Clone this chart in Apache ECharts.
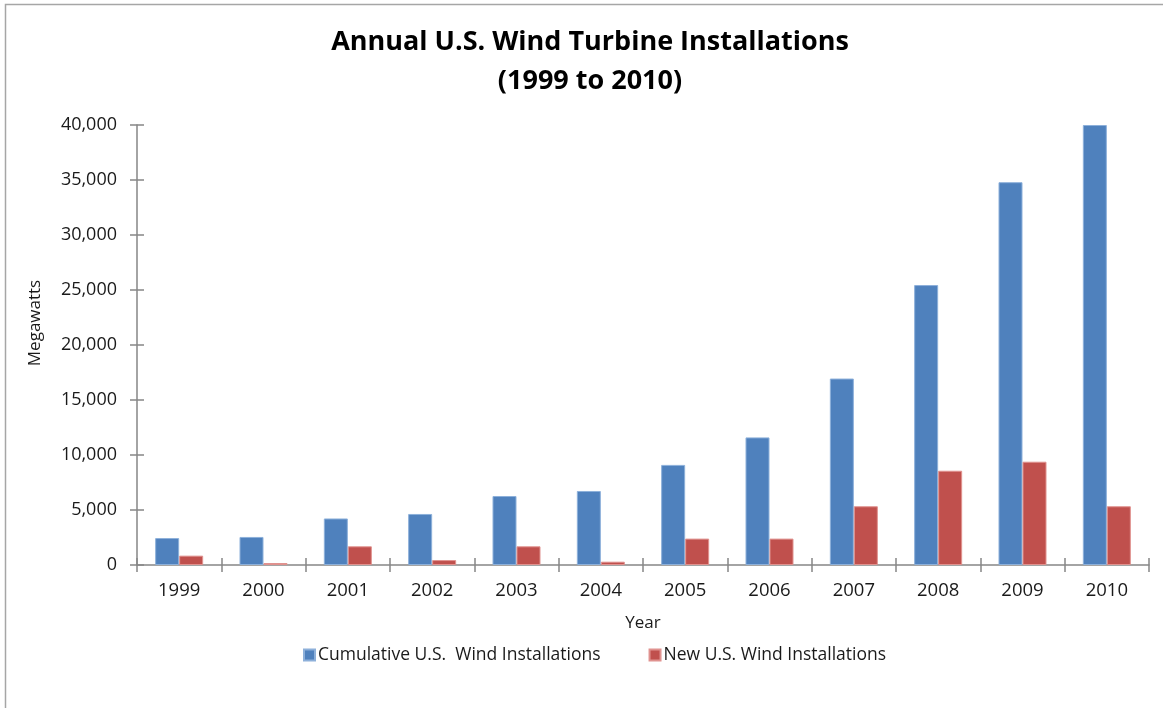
<!DOCTYPE html>
<html>
<head>
<meta charset="utf-8">
<title>Annual U.S. Wind Turbine Installations</title>
<script src="https://cdn.jsdelivr.net/npm/echarts@6/dist/echarts.min.js"></script>
<style>
  html, body { margin: 0; padding: 0; background: #ffffff; }
  #chart { width: 1163px; height: 708px; }
</style>
</head>
<body>
<div id="chart"></div>
<script>
// Annual wind capacity, megawatts
const years = ['1999', '2000', '2001', '2002', '2003', '2004', '2005', '2006', '2007', '2008', '2009', '2010'];
const cumulativeMW = [2450, 2550, 4230, 4640, 6270, 6730, 9100, 11600, 16950, 25450, 34800, 40000];
const newMW = [850, 180, 1700, 450, 1700, 300, 2400, 2400, 5340, 8570, 9390, 5340];
const yTicks = [0, 5000, 10000, 15000, 20000, 25000, 30000, 35000, 40000];

const FONT = '"Open Sans", "DejaVu Sans", sans-serif';
const AXIS_GRAY = '#868686';
const TEXT = '#1a1a1a';

const chart = echarts.init(document.getElementById('chart'), null, { renderer: 'canvas' });

const fmt = v => v.toLocaleString('en-US');

chart.setOption({
  backgroundColor: '#ffffff',
  animation: false,
  graphic: [{
    type: 'rect',
    shape: { x: 5.5, y: 4.5, width: 1300, height: 900 },
    style: { fill: 'none', stroke: '#a6a6a6', lineWidth: 1.5 },
    silent: true
  }],
  title: {
    text: 'Annual U.S. Wind Turbine Installations\n(1999 to 2010)',
    left: 585,
    top: 18,
    textAlign: 'center',
    textStyle: {
      fontFamily: FONT,
      fontWeight: 'bold',
      fontSize: 27,
      lineHeight: 39,
      color: '#000000'
    }
  },
  legend: {
    bottom: 39,
    left: 298,
    itemWidth: 11,
    itemHeight: 11,
    itemGap: 48,
    icon: 'rect',
    textStyle: { fontFamily: FONT, fontSize: 17.5, color: TEXT, padding: [0, 0, 0, -2] },
    data: ['Cumulative U.S.  Wind Installations', 'New U.S. Wind Installations']
  },
  grid: { left: 137, right: 14, top: 125, bottom: 143, containLabel: false },
  xAxis: [{
    type: 'category',
    data: years,
    name: 'Year',
    nameLocation: 'middle',
    nameGap: 50,
    nameTextStyle: { fontFamily: FONT, fontSize: 17, color: TEXT },
    axisLine: { lineStyle: { color: AXIS_GRAY, width: 1.5 } },
    axisTick: { show: true, length: 7, lineStyle: { color: AXIS_GRAY, width: 1.5 } },
    axisLabel: { fontFamily: FONT, fontSize: 18.5, color: TEXT, margin: 16 }
  }, {
    // inner half of the crossing tick marks
    type: 'category',
    data: years,
    position: 'bottom',
    axisLine: { show: false },
    axisTick: { show: true, inside: true, length: 7, lineStyle: { color: AXIS_GRAY, width: 1.5 } },
    axisLabel: { show: false }
  }],
  yAxis: [{
    type: 'value',
    min: 0,
    max: 40000,
    interval: 5000,
    name: 'Megawatts',
    nameLocation: 'middle',
    nameGap: 93,
    nameRotate: 90,
    nameTextStyle: { fontFamily: FONT, fontSize: 17, color: TEXT, padding: [0, 0, 0, 44] },
    splitLine: { show: false },
    axisLine: { show: true, lineStyle: { color: AXIS_GRAY, width: 1.5 } },
    axisTick: { show: true, length: 7, lineStyle: { color: AXIS_GRAY, width: 1.5 } },
    axisLabel: {
      fontFamily: FONT, fontSize: 18, color: TEXT, margin: 20,
      formatter: v => yTicks.includes(v) ? fmt(v) : ''
    }
  }, {
    type: 'value',
    min: 0,
    max: 40000,
    interval: 5000,
    position: 'left',
    splitLine: { show: false },
    axisLine: { show: false },
    axisTick: { show: true, inside: true, length: 7, lineStyle: { color: AXIS_GRAY, width: 1.5 } },
    axisLabel: { show: false }
  }],
  series: [{
    name: 'Cumulative U.S.  Wind Installations',
    type: 'bar',
    data: cumulativeMW,
    barWidth: 24,
    barGap: '0%',
    itemStyle: { color: '#4F81BD', borderColor: '#8DB0DA', borderWidth: 1 }
  }, {
    name: 'New U.S. Wind Installations',
    type: 'bar',
    data: newMW,
    barWidth: 24,
    barGap: '0%',
    itemStyle: { color: '#C0504D', borderColor: '#E0928F', borderWidth: 1 }
  }]
});
</script>
</body>
</html>
